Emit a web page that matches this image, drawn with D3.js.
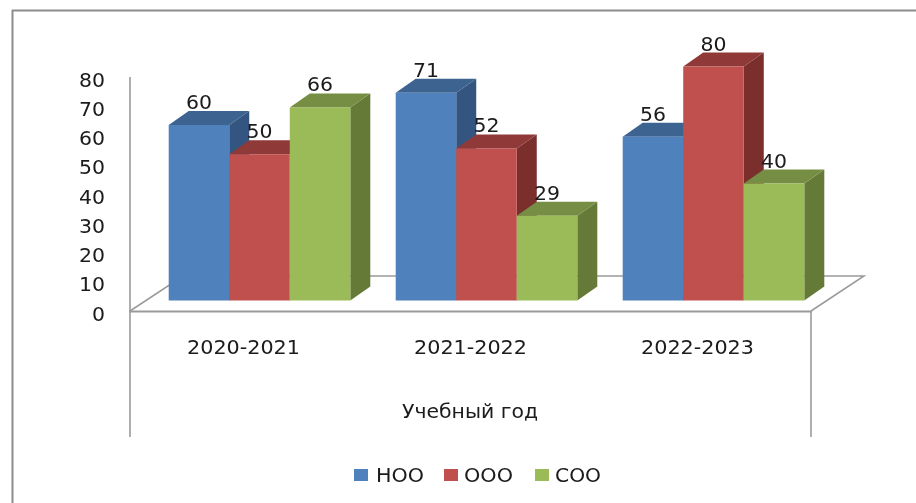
<!DOCTYPE html>
<html><head><meta charset="utf-8">
<script src="https://cdn.jsdelivr.net/npm/d3@7/dist/d3.min.js"></script>
<style>html,body{margin:0;padding:0;background:#fff}svg{display:block}text{font-family:"DejaVu Sans",sans-serif;fill:#1a1a1a}</style>
</head><body><svg id="c" width="916" height="503"></svg>
<script>
const categories=["2020-2021","2021-2022","2022-2023"];
const seriesNames=["НОО","ООО","СОО"];
const noo=[60,71,56];
const ooo=[50,52,80];
const soo=[66,29,40];
const yTicks=[0,10,20,30,40,50,60,70,80];
const axisTitle="Учебный год";
const fronts=["#4f81bd","#c0504d","#9bbb59"];
const tops=["#3d6391","#8f3a38","#768e43"];
const sides=["#335580","#7a2f2d","#667a38"];
const series=[noo,ooo,soo];
const dx=20,dy=14;
const svg=d3.select("#c");
const defs=svg.append("defs");
defs.append("filter").attr("id","soft").append("feGaussianBlur").attr("stdDeviation",0.45);
const gray="#9a9a9a";
const line=(g,x1,y1,x2,y2,w,c)=>g.append("line").attr("x1",x1).attr("y1",y1).attr("x2",x2).attr("y2",y2).attr("stroke",c||gray).attr("stroke-width",w);

// outer frame
line(svg,12,10.5,916,10.5,2,"#8c8c8c");
line(svg,12.5,10,12.5,503,2,"#8c8c8c");

// scales
const y=d3.scaleLinear().domain([0,80]).range([300.5,66.5]);
const yLab=d3.scaleLinear().domain([0,80]).range([314,80]);
const xAxisScale=d3.scaleBand().domain(categories).range([130,811]);
const x0=d3.scaleBand().domain(categories).range([146,827]).paddingInner(.2).paddingOuter(.1);
const x1=d3.scaleBand().domain([0,1,2]).range([0,x0.bandwidth()]);

// walls and floor
const frame=svg.append("g");
line(frame,130,77,130,437,1.6);
line(frame,811,311,811,437,1.6);
line(frame,129,311.5,812,311.5,2);
frame.append("path").attr("d","M130,311 L183,276 L864,276 L811,311").attr("fill","none").attr("stroke",gray).attr("stroke-width",1.5);

// bars
const bars=svg.append("g");
categories.forEach((c,i)=>{
  series.forEach((s,k)=>{
    const v=s[i],l=x0(c)+x1(k),r=l+x1.bandwidth(),t=y(v),b=y(0);
    const g=bars.append("g");
    g.append("path").attr("fill",sides[k]).attr("d",`M${r},${t}L${r+dx},${t-dy}L${r+dx},${b-dy}L${r},${b}Z`);
    g.append("path").attr("fill",tops[k]).attr("d",`M${l},${t}L${l+dx},${t-dy}L${r+dx},${t-dy}L${r},${t}Z`);
    g.append("rect").attr("x",l).attr("y",t).attr("width",x1.bandwidth()).attr("height",b-t).attr("fill",fronts[k]);
  });
});

const txt=svg.append("g").attr("filter","url(#soft)");
const numLen=d=>String(d).length*13;
// y axis labels
const yG=txt.append("g").attr("transform","translate(105,0)").call(d3.axisLeft(yLab).tickValues(yTicks).tickSize(0).tickPadding(0));
yG.select(".domain").remove();
yG.selectAll("text").attr("font-size",19).style("font-family",'"DejaVu Sans"').attr("fill","#1a1a1a").attr("textLength",numLen).attr("lengthAdjust","spacingAndGlyphs");
// x axis labels
const xG=txt.append("g").attr("transform","translate(0,340)").call(d3.axisBottom(xAxisScale).tickSize(0).tickPadding(0));
xG.select(".domain").remove();
xG.selectAll("text").attr("font-size",19).style("font-family",'"DejaVu Sans"').attr("fill","#1a1a1a").attr("textLength",113).attr("lengthAdjust","spacingAndGlyphs");
// axis title
txt.append("text").attr("x",470).attr("y",418).attr("text-anchor","middle").attr("font-size",19).attr("textLength",136).attr("lengthAdjust","spacingAndGlyphs").text(axisTitle);
// data labels
categories.forEach((c,i)=>series.forEach((s,k)=>{
  txt.append("text").attr("x",x0(c)+x1(k)+x1.bandwidth()/2).attr("y",y(s[i])-16).attr("text-anchor","middle").attr("font-size",19).attr("textLength",numLen(s[i])).attr("lengthAdjust","spacingAndGlyphs").text(s[i]);
}));
// legend
const legendX=[354,444,535];
const legendTextX=[376,464,555];
const legendTextW=[48,49,46];
const legend=svg.append("g");
seriesNames.forEach((n,k)=>{
  legend.append("rect").attr("x",legendX[k]).attr("y",469).attr("width",14).attr("height",12).attr("fill",fronts[k]);
  txt.append("text").attr("x",legendTextX[k]).attr("y",481.5).attr("font-size",19).attr("textLength",legendTextW[k]).attr("lengthAdjust","spacingAndGlyphs").text(n);
});
</script></body></html>
